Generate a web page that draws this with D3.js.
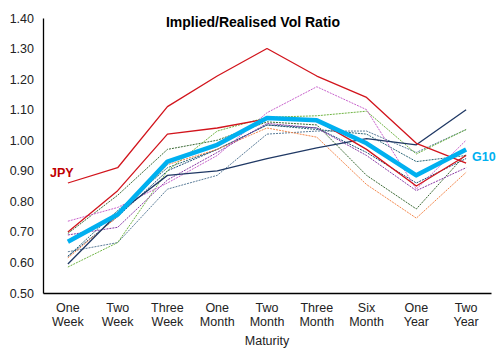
<!DOCTYPE html>
<html>
<head>
<meta charset="utf-8">
<script src="https://cdn.jsdelivr.net/npm/d3@7"></script>
<style>
  body { margin: 0; background: #fff; }
  text { font-family: "Liberation Sans", Arial, sans-serif; }
</style>
</head>
<body>
<div id="chart"></div>
<script>
// maturities on the x axis (two lines each)
let maturities = ["One Week", "Two Week", "Three Week", "One Month", "Two Month",
                  "Three Month", "Six Month", "One Year", "Two Year"];
let yTicks = [0.5, 0.6, 0.7, 0.8, 0.9, 1.0, 1.1, 1.2, 1.3, 1.4];

// implied / realised vol ratio per currency
let jpy       = [0.86, 0.91, 1.11, 1.21, 1.30, 1.21, 1.14, 0.99, 0.925];
let redSolid  = [0.70, 0.835, 1.02, 1.04, 1.07, 1.065, 0.97, 0.85, 0.95];
let navySolid = [0.595, 0.76, 0.885, 0.90, 0.94, 0.975, 1.005, 0.985, 1.10];
let navyDot   = [0.62, 0.75, 0.90, 0.97, 1.05, 1.04, 0.96, 0.86, 0.94];
let greyDot   = [0.635, 0.665, 0.84, 0.885, 1.02, 1.03, 1.03, 0.96, 1.035];
let tealDot   = [0.62, 0.77, 0.91, 0.97, 1.05, 1.035, 1.02, 0.93, 0.95];
let greenDot  = [0.585, 0.665, 0.90, 1.03, 1.075, 1.08, 1.095, 0.955, 1.035];
let dkGreenDot= [0.695, 0.82, 0.97, 1.00, 1.06, 1.05, 0.885, 0.775, 0.955];
let orangeDot = [0.615, 0.75, 0.92, 0.97, 1.04, 1.01, 0.855, 0.745, 0.895];
let magentaDot= [0.735, 0.78, 0.86, 0.95, 1.09, 1.175, 1.10, 0.84, 1.00];
let purpleDot = [0.69, 0.715, 0.87, 0.96, 1.055, 1.04, 0.95, 0.835, 0.91];
let g10       = [0.668, 0.757, 0.93, 0.985, 1.073, 1.065, 0.99, 0.885, 0.97];

let series = [
  { v: greyDot,    c: "#5b7d99", w: 1, dash: "2,1" },
  { v: tealDot,    c: "#2e6878", w: 1, dash: "2,1" },
  { v: navyDot,    c: "#1f4e79", w: 1, dash: "2,1" },
  { v: orangeDot,  c: "#f4874b", w: 1, dash: "2,1" },
  { v: dkGreenDot, c: "#3b6a35", w: 1, dash: "2,1" },
  { v: greenDot,   c: "#6fb443", w: 1, dash: "2,1" },
  { v: purpleDot,  c: "#8a3aa6", w: 1, dash: "2,1" },
  { v: magentaDot, c: "#c862cc", w: 1, dash: "2,1" },
  { v: navySolid,  c: "#1f3864", w: 1.3, dash: null },
  { v: redSolid,   c: "#d2141c", w: 1.3, dash: null },
  { v: jpy,        c: "#d2141c", w: 1.3, dash: null },
  { v: g10,        c: "#00b0f0", w: 4.5, dash: null }
];

let svgWidth = 502, svgHeight = 353;
let plotLeft = 43, plotRight = 491, plotTop = 18, plotBottom = 293;

let svg = d3.select("#chart").append("svg")
  .attr("width", svgWidth).attr("height", svgHeight);

let x = d3.scaleBand().domain(maturities).range([plotLeft, plotRight]);
let y = d3.scaleLinear().domain([0.5, 1.4]).range([plotBottom, plotTop]);

// y axis
let yAxis = d3.axisLeft(y).tickValues(yTicks).tickSize(0).tickPadding(9)
  .tickFormat(d3.format(".2f"));
let gy = svg.append("g").attr("transform", `translate(${plotLeft},0)`).call(yAxis);
gy.select(".domain").attr("stroke", "#000").attr("stroke-width", 1.3);
gy.selectAll("text").attr("font-size", 12.5).attr("fill", "#222")
  .attr("font-family", "Liberation Sans, Arial, sans-serif");

// x axis
let xAxis = d3.axisBottom(x).tickSize(0).tickFormat("");
let gx = svg.append("g").attr("transform", `translate(0,${plotBottom})`).call(xAxis);
gx.select(".domain").attr("stroke", "#000").attr("stroke-width", 1.3);

maturities.forEach(function (m) {
  let parts = m.split(" ");
  let cx = x(m) + x.bandwidth() / 2;
  let t = svg.append("text")
    .attr("text-anchor", "middle")
    .attr("font-size", 12.5).attr("fill", "#222");
  t.append("tspan").attr("x", cx).attr("y", 312).text(parts[0]);
  t.append("tspan").attr("x", cx).attr("y", 326).text(parts[1]);
});

svg.append("text").attr("x", 267).attr("y", 345).attr("text-anchor", "middle")
  .attr("font-size", 12.5).attr("fill", "#222").text("Maturity");

// lines
let line = d3.line()
  .x((d, i) => x(maturities[i]) + x.bandwidth() / 2)
  .y(d => y(d));

series.forEach(function (s) {
  svg.append("path")
    .attr("d", line(s.v))
    .attr("fill", "none")
    .attr("stroke", s.c)
    .attr("stroke-width", s.w)
    .attr("stroke-dasharray", s.dash)
    .attr("stroke-linejoin", "round");
});

// title and labels
svg.append("text").attr("x", 253).attr("y", 27).attr("text-anchor", "middle")
  .attr("font-size", 14).attr("font-weight", "bold").attr("fill", "#000")
  .text("Implied/Realised Vol Ratio");

svg.append("text").attr("x", 50).attr("y", 177)
  .attr("font-size", 12.5).attr("font-weight", "bold").attr("fill", "#c00000")
  .text("JPY");

svg.append("text").attr("x", 472).attr("y", 161)
  .attr("font-size", 12.5).attr("font-weight", "bold").attr("fill", "#00b0f0")
  .text("G10");
</script>
</body>
</html>
